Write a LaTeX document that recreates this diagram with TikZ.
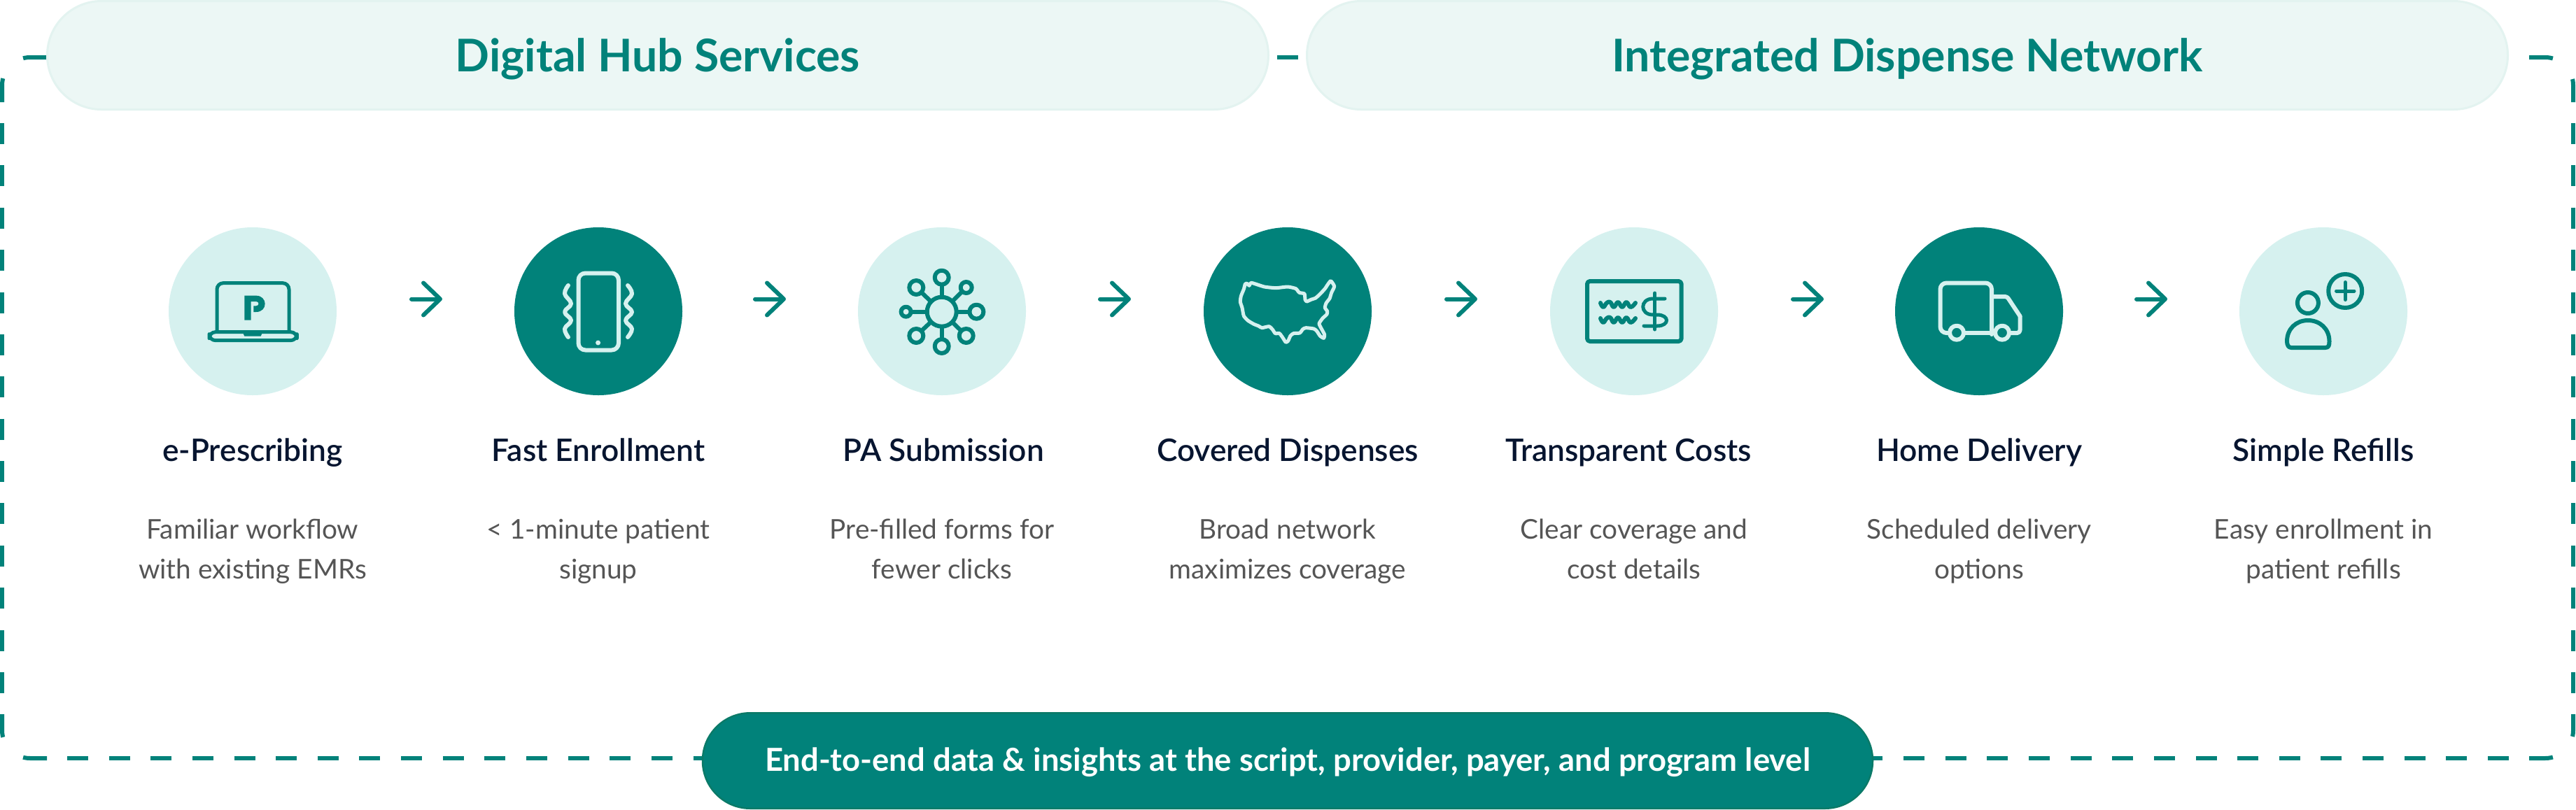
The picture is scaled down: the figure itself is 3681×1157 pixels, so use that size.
\documentclass[tikz,border=0pt]{standalone}
\usepackage{fontspec}
\setmainfont{Lato}
\newfontfamily\latosemi{Lato Semibold}
\usetikzlibrary{arrows.meta}
\definecolor{teal1}{HTML}{01827A}
\definecolor{tealedge}{HTML}{0B7A68}
\definecolor{lightdot}{HTML}{D6F1EF}
\definecolor{palefill}{HTML}{ECF7F5}
\definecolor{paleedge}{HTML}{E3F3F0}
\definecolor{titlecol}{HTML}{071530}
\definecolor{bodycol}{HTML}{555555}
\tikzset{
  x=1pt,y=-1pt,
  framedash/.style={draw=teal1,line width=6pt},
  headpill/.style={draw=paleedge,fill=palefill,line width=3pt,rounded corners=77.5pt,minimum height=155pt,inner sep=0pt,
    text=teal1,font=\bfseries\fontsize{64.4}{72}\selectfont,text height=46pt,text depth=0pt},
  footpill/.style={draw=tealedge,fill=teal1,line width=2.5pt,rounded corners=68pt,minimum height=136.5pt,inner sep=0pt,
    text=white,font=\bfseries\fontsize{45.4}{54}\selectfont,text height=29pt,text depth=0pt},
  dotlight/.style={circle,fill=lightdot,minimum size=240pt,inner sep=0pt},
  dotdark/.style={circle,fill=teal1,minimum size=240pt,inner sep=0pt},
  steptitle/.style={anchor=base,text=titlecol,inner sep=0pt,font=\latosemi\fontsize{44.3}{52}\selectfont},
  stepbody/.style={anchor=base,text=bodycol,inner sep=0pt,align=center,font=\fontsize{38.8}{57}\selectfont},
  flow/.style={draw=teal1,line width=6pt,line cap=round,-{Straight Barb[length=24pt,width=46pt,round]}},
  icondark/.style={draw=teal1,line width=6pt,line cap=round,line join=round},
  iconlight/.style={draw=lightdot,line width=6pt,line cap=round,line join=round},
}
\begin{document}
\begin{tikzpicture}
\useasboundingbox (0,0) rectangle (3681,1157);
\fill[white] (0,0) rectangle (3681,1157);
% dashed frame
\draw[framedash,rounded corners=40pt,dash pattern=on 34pt off 42.8pt on 40pt] (67,82) -- (3,82) -- (3,146);
\draw[framedash,rounded corners=40pt,dash pattern=on 34pt off 42.8pt on 40pt] (3614,82) -- (3677,82) -- (3677,146);
\draw[framedash,rounded corners=40pt,dash pattern=on 34pt off 42.8pt on 40pt] (67,1084) -- (3,1084) -- (3,1021);
\draw[framedash,rounded corners=40pt,dash pattern=on 34pt off 42.8pt on 40pt] (3614,1084) -- (3677,1084) -- (3677,1021);
\draw[framedash,dash pattern=on 30pt off 30.38pt] (3,176) -- (3,991);
\draw[framedash,dash pattern=on 30pt off 30.38pt] (3677,176) -- (3677,991);
\draw[framedash,dash pattern=on 30pt off 29.64pt] (96,1084) -- (1010,1084);
\draw[framedash,dash pattern=on 30pt off 29.64pt] (3585,1084) -- (2670,1084);
\draw[framedash] (1825,82) -- (1855,82);
% pills
\node[headpill,minimum width=1745pt] (hub) at (940,79) {Digital Hub Services};
\node[headpill,minimum width=1716pt] (net) at (2725.5,79) {Integrated Dispense Network};
\node[footpill,minimum width=1672pt] (foot) at (1840,1087.5) {End-to-end data \& insights at the script, provider, payer, and program level};
% steps
\foreach \i/\x/\tx/\st/\t/\b in {
  1/361/361/dotlight/e-Prescribing/{Familiar workflow\\with existing EMRs},
  2/855/855/dotdark/Fast Enrollment/{< 1-minute patient\\signup},
  3/1346/1348/dotlight/PA Submission/{Pre-filled forms for\\fewer clicks},
  4/1840/1840/dotdark/Covered Dispenses/{Broad network\\maximizes coverage},
  5/2335/2327/dotlight/Transparent Costs/{Clear coverage and\\cost details},
  6/2828/2828/dotdark/Home Delivery/{Scheduled delivery\\options},
  7/3320/3320/dotlight/Simple Refills/{Easy enrollment in\\patient refills}}{
  \node[\st] (c\i) at (\x,445) {};
  \node[steptitle] (t\i) at (\tx,659) {\t};
  \node[stepbody] (b\i) at (\x,827) {\b};
}
% arrows
\foreach \i/\a/\z in {1/588/632,2/1079/1123,3/1572/1616,4/2067/2111,5/2562/2606,6/3053/3097}{
  \coordinate (as\i) at (\a,427.5);
  \coordinate (ae\i) at (\z,427.5);
  \draw[flow] (as\i) -- (ae\i);
}
% laptop
\begin{scope}[shift={(240,380)},xscale=1/3,yscale=1/3]
  \draw[icondark,line width=5pt,rounded corners=9pt] (210,280) -- (210,74) -- (519,74) -- (519,280);
  \draw[icondark,line width=5pt,rounded corners=9pt] (177,284) -- (553,284) -- (553,320) -- (177,320) -- cycle;
  \fill[teal1] (320,284) -- (328,302) -- (398,302) -- (406,284) -- cycle;
  \fill[teal1] (328,128) -- (378,128) .. controls (402,128) and (416,145) .. (416,163) .. controls (416,182) and (402,198) .. (378,198) -- (367,198) -- (367,172) -- (378,172) .. controls (392,172) and (392,153) .. (378,153) -- (356,153) -- (356,233) -- (328,233) -- cycle;
\end{scope}
% phone
\draw[iconlight,rounded corners=10pt] (826.5,390.5) rectangle (884,500.5);
\fill[lightdot] (854.6,490) circle[radius=3.5];
\draw[iconlight] plot[smooth,tension=.7] coordinates {(812,408) (807,420) (816,434) (807,446) (816,458) (807,470) (812,482)};
\draw[iconlight] plot[smooth,tension=.7] coordinates {(897,408) (903,420) (894,434) (903,446) (894,458) (903,470) (897,482)};
% network
\foreach \px/\py/\r in {1345.7/396.7/10, 1395.4/445.7/10, 1294.6/445.7/7, 1345.7/495/10, 1309.3/411/10, 1380.7/411/8, 1309.3/480/10, 1380.7/480/10}{
  \draw[icondark] (1345.7,445.7) -- (\px,\py);
  \draw[icondark,fill=lightdot] (\px,\py) circle[radius=\r];
}
\draw[icondark,fill=lightdot] (1345.7,445.7) circle[radius=21];
% map of the USA
\begin{scope}[shift={(1740,370)},xscale=1/3,yscale=1/3]
  \draw[iconlight,line width=5pt] plot[smooth cycle,tension=.35] coordinates {(118,108) (112,130) (100,160) (97,185) (105,210) (112,245) (130,265) (155,280) (175,288) (190,296) (220,290) (235,303) (247,320) (265,320) (280,340) (292,358) (302,352) (312,330) (325,320) (352,318) (365,302) (378,296) (412,300) (425,310) (440,332) (455,340) (458,325) (445,300) (435,278) (450,255) (468,238) (470,225) (460,210) (465,190) (480,170) (488,145) (500,118) (485,95) (472,110) (460,128) (440,150) (420,168) (400,175) (382,183) (375,175) (372,150) (350,145) (335,128) (300,120) (250,125) (200,120) (145,103) (135,115) (125,105)};
\end{scope}
% cheque
\draw[icondark,rounded corners=4pt] (2268,402) rectangle (2402.6,488);
\foreach \wy in {436,458}{
  \draw[icondark] plot[smooth,tension=.8] coordinates {(2287,\wy-3) (2291,\wy+3) (2296,\wy-3) (2301,\wy-4) (2306,\wy+3) (2312,\wy-4) (2318,\wy+3) (2324,\wy-4) (2330,\wy+3) (2337,\wy-3)};
}
\draw[icondark,line width=5pt] (2364.8,419) -- (2364.8,471);
\draw[icondark,line width=5pt] (2379,427) -- (2362,427) .. controls (2343,427) and (2343,450) .. (2362,450) -- (2368,450) .. controls (2386,450) and (2386,466) .. (2368,466) -- (2349,466);
% truck
\draw[iconlight,rounded corners=9pt] (2786,476) -- (2772.5,476) -- (2772.5,404.5) -- (2846,404.5) -- (2846,478);
\draw[iconlight] (2808,476) -- (2850,476);
\draw[iconlight,rounded corners=3pt] (2846,424) -- (2868,424) -- (2886.5,452);
\draw[iconlight,rounded corners=4pt] (2886.5,452) -- (2886.5,476) -- (2873,476);
\draw[iconlight,fill=teal1] (2796,475.7) circle[radius=10];
\draw[iconlight,fill=teal1] (2861,475.7) circle[radius=10];
% person with plus
\draw[icondark] (3351.2,416) circle[radius=24];
\draw[icondark,line width=5pt] (3338.5,416) -- (3364,416);
\draw[icondark,line width=5pt] (3351.2,403.5) -- (3351.2,428.5);
\draw[icondark] (3297.9,433) circle[radius=15];
\draw[icondark] (3274,497) -- (3323,497) .. controls (3328,497) and (3328.5,493) .. (3328.5,488) .. controls (3328.5,470) and (3315,458) .. (3298,458) .. controls (3281,458) and (3268,470) .. (3268,488) .. controls (3268,493) and (3270,497) .. (3274,497) -- cycle;
\end{tikzpicture}
\end{document}
